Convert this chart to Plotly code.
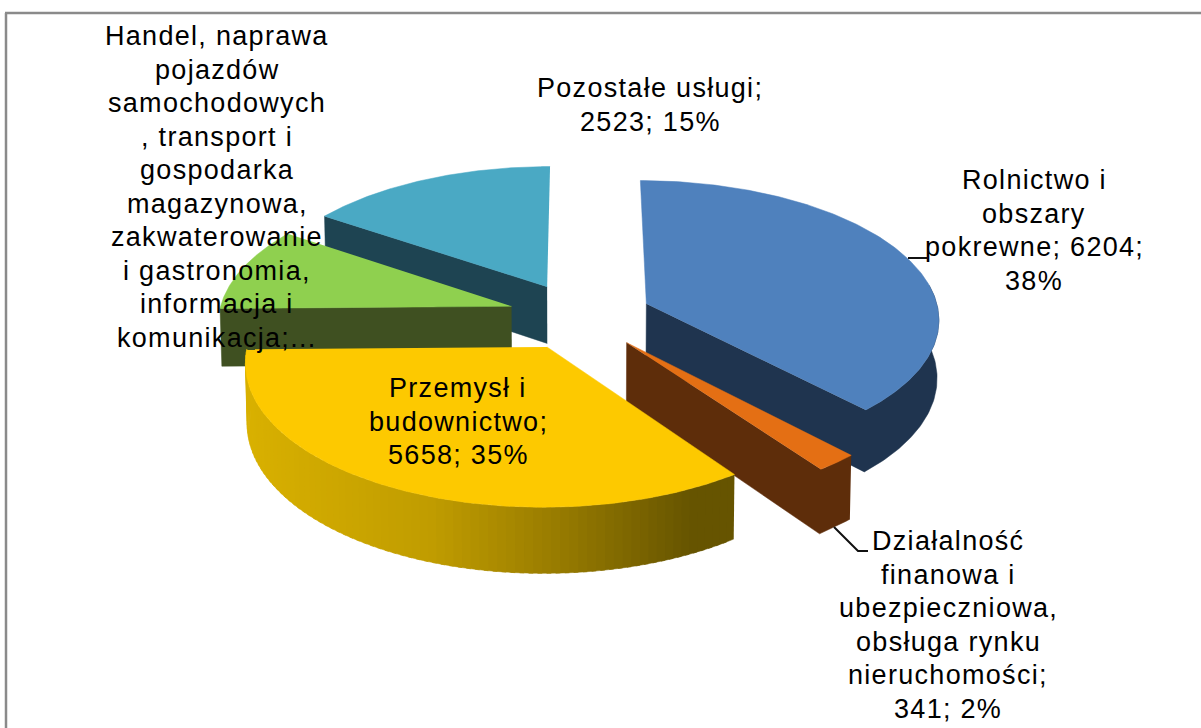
import math
import plotly.graph_objects as go

# ---- data ----
categories = ["Rolnictwo i obszary pokrewne",
              "Działalność finanowa i ubezpieczniowa, obsługa rynku nieruchomości",
              "Przemysł i budownictwo",
              "Handel, naprawa pojazdów samochodowych, transport i gospodarka magazynowa, zakwaterowanie i gastronomia, informacja i komunikacja",
              "Pozostałe usługi"]
values = [6204, 341, 5658, 1600, 2523]
top_colors = ["#4f81bd", "#e46f14", "#fdc900", "#8fd04f", "#4aa9c4"]
side_colors = ["#1f344f", "#5e2d0a", "#665400", "#3f5021", "#1e4452"]

labels = [
    (["Rolnictwo i", "obszary", "pokrewne; 6204;", "38%"], 1034, 180),
    (["Działalność", "finanowa i", "ubezpieczniowa,", "obsługa rynku", "nieruchomości;", "341; 2%"], 948, 541),
    (["Przemysł i", "budownictwo;", "5658; 35%"], 458, 388),
    (["Handel, naprawa", "pojazdów", "samochodowych", ", transport i", "gospodarka", "magazynowa,",
      "zakwaterowanie", "i gastronomia,", "informacja i", "komunikacja;..."], 217, 36),
    (["Pozostałe usługi;", "2523; 15%"], 650, 88),
]

# ---- projection style ----
CX, CY = 580, 316
R = 293
EXPLODE = 72
YR = 0.47
K = 0.10
DEPTH = 58
BOTTOM_SHRINK = 0.995
RIM_LIMIT = 0.15
FONT = "Liberation Sans"
FS = 27
SPACING = "1.3px"
LH = 33.5


def project(X, Y, down=False):
    f = 1 / (1 + K * Y / R)
    sx = X * f
    sy = -YR * Y * f
    if down:
        sx *= BOTTOM_SHRINK
        sy += DEPTH * f
    return CX + sx, CY + sy


def rim_xy(theta, mid):
    return (EXPLODE * math.sin(mid) + R * math.sin(theta),
            EXPLODE * math.cos(mid) + R * math.cos(theta))


N = 160


def arc_angles(t0, t1):
    return [t0 + (t1 - t0) * i / N for i in range(N + 1)]


fig = go.Figure()


def poly(pts, color):
    fig.add_trace(go.Scatter(x=[p[0] for p in pts], y=[p[1] for p in pts], mode="lines",
                             fill="toself", fillcolor=color, line=dict(color=color, width=0.5),
                             hoverinfo="skip", showlegend=False))


def gold_at(x):
    # side gradient of the yellow slice, left to right
    stops = [(250, (216, 176, 0)), (430, (192, 156, 0)), (560, (150, 122, 0)), (690, (102, 84, 0)), (740, (102, 84, 0))]
    for (x0, c0), (x1, c1) in zip(stops, stops[1:]):
        if x <= x1:
            t = max(0, (x - x0) / (x1 - x0))
            return "rgb(%d,%d,%d)" % tuple(round(a + (b - a) * t) for a, b in zip(c0, c1))
    return "rgb(102,84,0)"


total = sum(values)
starts = []
acc = 0
for v in values:
    starts.append(acc)
    acc += v

slices = []
for i, v in enumerate(values):
    t0 = starts[i] / total * 2 * math.pi
    t1 = (starts[i] + v) / total * 2 * math.pi
    slices.append((i, t0, t1, (t0 + t1) / 2))

for i, t0, t1, mid in [slices[4], slices[3], slices[0], slices[1], slices[2]]:
    ax, ay = EXPLODE * math.sin(mid), EXPLODE * math.cos(mid)
    apex_t = project(ax, ay)
    apex_b = project(ax, ay, True)
    angles = arc_angles(t0, t1)
    top = [project(*rim_xy(a, mid)) for a in angles]
    bot = [project(*rim_xy(a, mid), True) for a in angles]
    face0 = math.cos(t0 - math.pi / 2) < -0.01
    face1 = math.cos(t1 + math.pi / 2) < -0.01
    if i == 2:
        # rim with a left-to-right gradient
        step = 2
        for j in range(0, len(top) - 1, step):
            k = min(j + step + 1, len(top) - 1)
            poly([top[j], top[k], bot[k], bot[j]], gold_at((top[j][0] + top[k][0]) / 2))
    elif face0:
        # the rim runs away from the viewer here: only the cut face shows
        poly([apex_t, top[0], bot[0], apex_b], side_colors[i])
    else:
        # visible rim and the cut face towards the viewer, as one outline
        keep = [j for j, a in enumerate(angles) if math.cos(a) < RIM_LIMIT]
        tp = [top[j] for j in keep]
        bt = [bot[j] for j in keep]
        outline = tp + [apex_t, apex_b] + bt[::-1] if face1 else tp + bt[::-1]
        poly(outline, side_colors[i])
    # top surface
    poly([apex_t] + top, top_colors[i])

annotations = []
for lines, xc, y0 in labels:
    for n, line in enumerate(lines):
        annotations.append(dict(x=xc, y=y0 + n * LH,
                                text='<span style="letter-spacing:%s">%s</span>' % (SPACING, line),
                                showarrow=False, xanchor="center",
                                yanchor="middle", xref="x", yref="y",
                                font=dict(family=FONT, size=FS, color="#000000")))

shapes = [
    dict(type="line", x0=6, x1=6, y0=13, y1=728, line=dict(color="#8a8a8a", width=2.5)),
    dict(type="line", x0=5, x1=1201, y0=13, y1=13, line=dict(color="#8a8a8a", width=2.5)),
    dict(type="line", x0=908, x1=927, y0=258, y1=258, line=dict(color="#111111", width=2)),
    dict(type="path", path="M 834 527 L 858 551 L 868 551", line=dict(color="#111111", width=2)),
]

fig.update_layout(
    width=1201, height=728, autosize=False,
    margin=dict(l=0, r=0, t=0, b=0),
    paper_bgcolor="#ffffff", plot_bgcolor="#ffffff",
    xaxis=dict(range=[0, 1201], visible=False, fixedrange=True),
    yaxis=dict(range=[728, 0], visible=False, fixedrange=True),
    annotations=annotations, shapes=shapes, showlegend=False,
)
fig.write_html("out.html", config={"displayModeBar": False},
               post_script="document.body.style.margin='0';document.body.style.overflow='hidden';")
